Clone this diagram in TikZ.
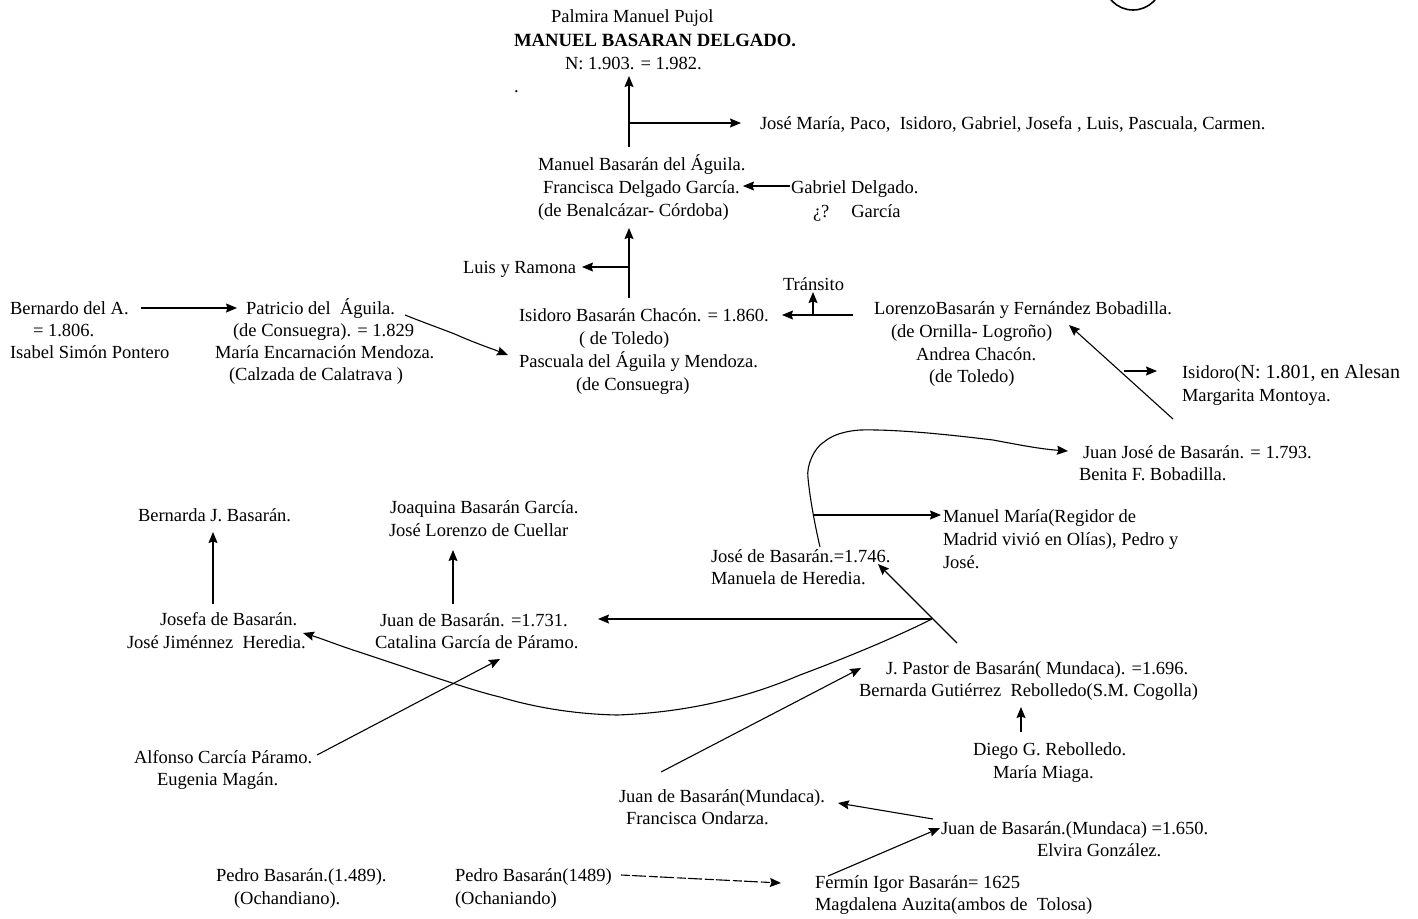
\documentclass[tikz,border=0pt]{standalone}
\usepackage{fontspec}
\setmainfont{Liberation Serif}
\usetikzlibrary{arrows.meta}
\tikzset{
  tx/.style={anchor=base west,inner sep=0pt,outer sep=0pt,font=\fontsize{18.5}{20}\selectfont,text=black},
  ln/.style={line width=1.1pt,draw=black},
  arr/.style={ln,-{Stealth[length=11pt,width=9pt,inset=1.5pt]}},
  dsh/.style={arr,dash pattern=on 9pt off 2pt on 14pt off 3pt}
}
\newcommand{\pt}[3]{([shift={(#2,#3)}]#1.base west)}
\begin{document}
\begin{tikzpicture}[x=1pt,y=-1pt]
\useasboundingbox (0,0) rectangle (1418,918);
\fill[white] (0,0) rectangle (1418,918);
\begin{scope}
\clip (0,0) rectangle (1418,918);
\draw[line width=1.6pt] (1133,-19) circle (29);
\end{scope}
\node[tx] (palmira) at (551,23) {Palmira Manuel Pujol};
\node[tx,font=\fontsize{18.7}{20}\selectfont\bfseries] (manuelb) at (514,46) {MANUEL BASARAN DELGADO.};
\node[tx] (nac) at (565,69) {N: 1.903. = 1.982.};
\node[tx] (dot) at (514,92) {.};
\node[tx] (hermanos) at (760,129) {José María, Paco,\ \ Isidoro, Gabriel, Josefa , Luis, Pascuala, Carmen.};
\node[tx] (ma) at (538,170) {Manuel Basarán del Águila.};
\node[tx] (fd) at (543,193) {Francisca Delgado García.};
\node[tx] (bena) at (538,216) {(de Benalcázar- Córdoba)};
\node[tx] (gab) at (791,193) {Gabriel Delgado.};
\node[tx] (garcia) at (813,217) {¿?\hspace{8pt}\ \ \ García};
\node[tx] (luis) at (463,273) {Luis y Ramona};
\node[tx] (transito) at (783,290) {Tránsito};
\node[tx] (bern) at (10,314) {Bernardo del A.};
\node[tx] (b806) at (33,336) {= 1.806.};
\node[tx] (isabel) at (10,358) {Isabel Simón Pontero};
\node[tx] (pat) at (246,314) {Patricio del\ \ Águila.};
\node[tx] (cons) at (233,336) {(de Consuegra). = 1.829};
\node[tx] (mariae) at (215,358) {María Encarnación Mendoza.};
\node[tx] (calz) at (229,380) {(Calzada de Calatrava )};
\node[tx] (isi) at (519,321) {Isidoro Basarán Chacón. = 1.860.};
\node[tx] (tol) at (579,344) {( de Toledo)};
\node[tx] (pasc) at (519,367) {Pascuala del Águila y Mendoza.};
\node[tx] (cons2) at (576,390) {(de Consuegra)};
\node[tx] (lor) at (874,314) {LorenzoBasarán y Fernández Bobadilla.};
\node[tx] (orn) at (891,337) {(de Ornilla- Logroño)};
\node[tx] (andrea) at (916,360) {Andrea Chacón.};
\node[tx] (tol2) at (929,382) {(de Toledo)};
\begin{scope}
\clip (1100,350) rectangle (1399,390);
\node[tx] (isi2) at (1182,378) {Isidoro({\fontsize{20}{20}\selectfont N: 1.801, en Alesanco}};
\end{scope}
\node[tx] (marg) at (1182,401) {Margarita Montoya.};
\node[tx] (jj) at (1083,458) {Juan José de Basarán. = 1.793.};
\node[tx] (ben) at (1079,480) {Benita F. Bobadilla.};
\node[tx] (mm) at (943,522) {Manuel María(Regidor de};
\node[tx] (mad) at (943,545) {Madrid vivió en Olías), Pedro y};
\node[tx] (jose) at (943,568) {José.};
\node[tx] (jb) at (711,562) {José de Basarán.=1.746.};
\node[tx] (mh) at (711,584) {Manuela de Heredia.};
\node[tx] (joa) at (390,513) {Joaquina Basarán García.};
\node[tx] (jl) at (389,536) {José Lorenzo de Cuellar};
\node[tx] (bj) at (138,521) {Bernarda J. Basarán.};
\node[tx] (jf) at (160,625) {Josefa de Basarán.};
\node[tx] (jjh) at (127,648) {José Jiménnez\ \ Heredia.};
\node[tx] (jbb) at (380,626) {Juan de Basarán. =1.731.};
\node[tx] (cg) at (375,648) {Catalina García de Páramo.};
\node[tx] (jp) at (886,674) {J. Pastor de Basarán( Mundaca). =1.696.};
\node[tx] (bg) at (859,696) {Bernarda Gutiérrez\ \ Rebolledo(S.M. Cogolla)};
\node[tx] (dg) at (973,755) {Diego G. Rebolledo.};
\node[tx] (mmi) at (993,778) {María Miaga.};
\node[tx] (alf) at (134,763) {Alfonso Carcía Páramo.};
\node[tx] (eug) at (157,785) {Eugenia Magán.};
\node[tx] (jm) at (619,802) {Juan de Basarán(Mundaca).};
\node[tx] (fo) at (626,824) {Francisca Ondarza.};
\node[tx] (jc) at (941,834) {Juan de Basarán.(Mundaca) =1.650.};
\node[tx] (elv) at (1037,856) {Elvira González.};
\node[tx] (pba) at (216,881) {Pedro Basarán.(1.489).};
\node[tx] (och) at (234,904) {(Ochandiano).};
\node[tx] (pbb) at (455,881) {Pedro Basarán(1489)};
\node[tx] (ochb) at (455,904) {(Ochaniando)};
\node[tx] (fer) at (815,888) {Fermín Igor Basarán= 1625};
\node[tx] (mag) at (815,910) {Magdalena Auzita(ambos de\ \ Tolosa)};
% connectors
\draw[arr] \pt{ma}{91}{-23} -- \pt{nac}{64}{7};
\draw[arr] \pt{ma}{91}{-47} -- \pt{hermanos}{-19}{-6};
\draw[arr] \pt{gab}{-1}{-7} -- \pt{fd}{200}{-7};
\draw[arr] \pt{isi}{110}{-23} -- \pt{bena}{91}{12};
\draw[arr] \pt{isi}{110}{-54} -- \pt{luis}{119}{-6};
\draw[arr] \pt{lor}{-21}{1} -- \pt{isi}{263}{-6};
\draw[arr] \pt{isi}{294}{-6} -- \pt{transito}{30}{2};
\draw[arr] \pt{bern}{131}{-6} -- \pt{pat}{-9}{-6};
\draw[arr] \pt{pat}{159}{1} .. controls (430,325) and (445,330) .. (457,335) .. controls (475,343) and (490,348) .. \pt{pasc}{-11}{-12};
\draw[arr] \pt{marg}{-9}{18} -- \pt{lor}{195}{11};
\draw[arr] \pt{marg}{-58}{-30} -- \pt{isi2}{-25}{-7};
\draw[arr] \pt{jb}{109}{-15} .. controls (816,530) and (810,500) .. (808,478) .. controls (806,465) and (815,447) .. (824,442) .. controls (832,435) and (845,431) .. (860,430) .. controls (900,429) and (960,436) .. (993,440) .. controls (1020,445) and (1040,449) .. \pt{jj}{-15}{-7};
\draw[arr] \pt{jb}{103}{-47} -- \pt{mm}{-2}{-7};
\draw[arr] \pt{jp}{71}{-31} -- \pt{jb}{167}{2};
\draw[arr] \pt{jp}{46}{-55} -- \pt{jbb}{218}{-7};
\draw[arr] \pt{jp}{46}{-55} .. controls (890,640) and (840,660) .. (800,675) .. controls (760,692) and (700,712) .. (617,715) .. controls (570,714) and (530,706) .. (500,697) .. controls (470,690) and (420,672) .. (353,650) .. controls (335,644) and (320,638) .. \pt{jjh}{176}{-15};
\draw[arr] \pt{jbb}{73}{-22} -- \pt{jl}{64}{14};
\draw[arr] \pt{jf}{53}{-21} -- \pt{bj}{75}{11};
\draw[arr] \pt{alf}{183}{-8} -- \pt{cg}{125}{11};
\draw[arr] \pt{jm}{42}{-30} -- \pt{jp}{-25}{-6};
\draw[arr] \pt{dg}{48}{-23} -- \pt{bg}{162}{11};
\draw[arr] \pt{jc}{-8}{-15} -- \pt{jm}{219}{1};
\draw[arr] \pt{fer}{13}{-12} -- \pt{jc}{-1}{-6};
\draw[dsh] \pt{pbb}{166}{-6} -- \pt{fer}{-34}{-5};
\end{tikzpicture}
\end{document}
